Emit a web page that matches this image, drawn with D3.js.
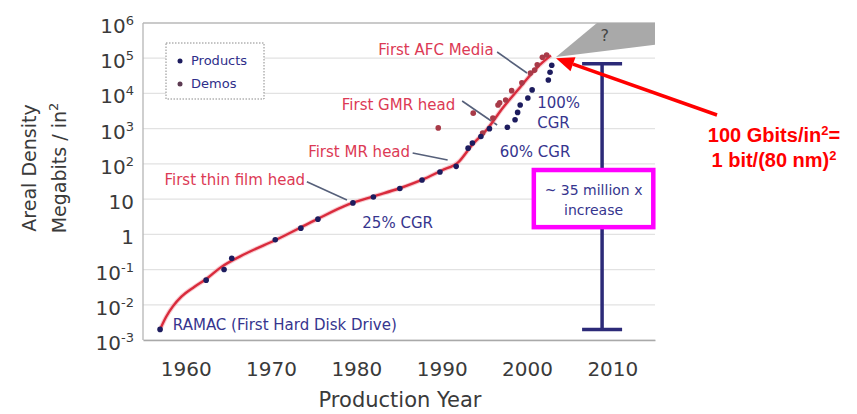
<!DOCTYPE html>
<html>
<head>
<meta charset="utf-8">
<script src="https://cdn.jsdelivr.net/npm/d3@7"></script>
<style>
  body { margin: 0; background: #fff; }
  svg { display: block; }
</style>
</head>
<body>
<svg id="chart" width="857" height="414"></svg>
<script>
// Fitted areal-density trend (production year, Mbit/in^2)
const trendYears  = [1957, 1957.7, 1958.5, 1959.5, 1961, 1962.5, 1964, 1967, 1970.6, 1975, 1979, 1982, 1985, 1988, 1990, 1992, 1993.5, 1995.3, 1997.2, 1999.2, 2001.2, 2002.8];
const trendValues = [0.002, 0.0045, 0.009, 0.017, 0.032, 0.056, 0.11, 0.28, 0.7, 2.4, 7, 12, 20, 38, 65, 115, 330, 950, 4000, 15000, 55000, 120000];

// Shipping products
const productYears  = [1957, 1962.4, 1964.5, 1965.4, 1970.5, 1973.5, 1975.5, 1979.6, 1982, 1985.1, 1987.7, 1989.8, 1991.7, 1993.1, 1993.6, 1994.6, 1995.6, 1997.7, 1998.6, 1998.9, 1999.2, 2000.1, 2000.6, 2002.5, 2002.7, 2002.9];
const productValues = [0.002, 0.05, 0.1, 0.21, 0.7, 1.5, 2.7, 7.8, 11.5, 20, 35, 59, 85, 280, 390, 600, 1000, 1100, 1800, 2900, 4700, 7400, 12600, 24000, 40000, 63000];

// Laboratory demonstrations
const demoYears  = [1989.6, 1993.7, 1994.8, 1996.0, 1996.6, 1996.8, 1997.5, 1998.2, 1999.4, 2000.4, 2000.9, 2001.2, 2001.8, 2002.3];
const demoValues = [1050, 2760, 750, 2000, 4700, 5400, 6500, 12000, 20000, 38000, 46000, 65000, 107000, 123000];

// Axis ticks
const xTickYears = [1960, 1970, 1980, 1990, 2000, 2010];
const yTickValues = [1e-3, 1e-2, 1e-1, 1, 10, 1e2, 1e3, 1e4, 1e5, 1e6];
const yTickBase   = ["10", "10", "10", "1", "10", "10", "10", "10", "10", "10"];
const yTickExp    = ["-3", "-2", "-1", "", "", "2", "3", "4", "5", "6"];

// Range of growth shown by the bar at the right
const rangeYear = 2008.8;
const rangeLow = 0.002;
const rangeHigh = 70000;

const svg = d3.select("#chart");
const W = 857, H = 414;
const plot = { left: 143, right: 655, top: 23, bottom: 340 };

const x = d3.scaleLinear().domain([1955, 2015]).range([plot.left, plot.right]);
const y = d3.scaleLog().domain([1e-3, 1e6]).range([plot.bottom, plot.top]);

const FONT = "'DejaVu Sans', Verdana, sans-serif";
const RED_TXT = "#dc3a55";
const NAVY_TXT = "#36358e";

svg.append("rect").attr("width", W).attr("height", H).attr("fill", "#fff");

// Horizontal gridlines
svg.append("g").selectAll("line").data(yTickValues).join("line")
  .attr("x1", plot.left).attr("x2", plot.right)
  .attr("y1", d => y(d)).attr("y2", d => y(d))
  .attr("stroke", d => d === 1e6 ? "#b9b9b9" : "#e2e2e2")
  .attr("stroke-width", d => d === 1e6 ? 1.5 : 1.2);

// Left frame
svg.append("line")
  .attr("x1", plot.left).attr("x2", plot.left)
  .attr("y1", plot.top).attr("y2", plot.bottom)
  .attr("stroke", "#b5b5b5").attr("stroke-width", 1.3);

// X axis
const xAxis = svg.append("g")
  .attr("transform", `translate(0,${plot.bottom})`)
  .call(d3.axisBottom(x).tickValues(xTickYears).tickFormat(d3.format("d")).tickSize(0).tickPadding(22));
xAxis.select(".domain").attr("stroke", "#a9a9a9").attr("stroke-width", 1.4);
xAxis.selectAll("text").attr("font-family", FONT).attr("font-size", 20).attr("fill", "#3a3a3a");

// Y tick labels with superscript exponents
const yLab = svg.append("g").selectAll("text").data(yTickValues).join("text")
  .attr("x", 134).attr("y", d => y(d) + 10)
  .attr("text-anchor", "end")
  .attr("font-family", FONT).attr("font-size", 20).attr("fill", "#3a3a3a");
yLab.append("tspan").text((d, i) => yTickBase[i]);
yLab.append("tspan")
  .attr("dy", (d, i) => yTickExp[i] ? -8 : 0)
  .attr("font-size", 13)
  .text((d, i) => yTickExp[i]);

// Axis titles
svg.append("text")
  .attr("x", 400).attr("y", 407).attr("text-anchor", "middle")
  .attr("font-family", FONT).attr("font-size", 21).attr("fill", "#3a3a3a")
  .text("Production Year");
const yt = svg.append("g").attr("transform", "translate(0,168) rotate(-90)");
yt.append("text").attr("x", 0).attr("y", 36).attr("text-anchor", "middle")
  .attr("font-family", FONT).attr("font-size", 19).attr("fill", "#3a3a3a")
  .text("Areal Density");
const yt2 = yt.append("text").attr("x", 0).attr("y", 66).attr("text-anchor", "middle")
  .attr("font-family", FONT).attr("font-size", 19).attr("fill", "#3a3a3a");
yt2.append("tspan").text("Megabits / in");
yt2.append("tspan").attr("dy", -8).attr("font-size", 13).text("2");

// Grey "future" wedge with question mark
const wedge = [[2003.4, 1.08e5], [2008.2, 1e6], [2015, 1e6], [2015, 2.4e5]];
svg.append("path")
  .attr("d", d3.line().x(d => x(d[0])).y(d => y(d[1])).curve(d3.curveLinearClosed)(wedge))
  .attr("fill", "#a9a9a9");
svg.append("text")
  .attr("x", x(2009.1)).attr("y", y(4.6e5) + 6).attr("text-anchor", "middle")
  .attr("font-family", FONT).attr("font-size", 16).attr("fill", "#444")
  .text("?");

// Leader lines for annotations
const leaders = [
  [[1996.5, 1.5e5], [2000.0, 3.8e4]],
  [[1992.4, 6100], [1996.5, 1270]],
  [[1986.6, 204], [1990.7, 129]],
  [[1974.2, 31], [1978.9, 9.4]]
];
svg.append("g").selectAll("line").data(leaders).join("line")
  .attr("x1", d => x(d[0][0])).attr("y1", d => y(d[0][1]))
  .attr("x2", d => x(d[1][0])).attr("y2", d => y(d[1][1]))
  .attr("stroke", "#56607a").attr("stroke-width", 1.6);

// Trend curve
const trend = trendYears.map((t, i) => [t, trendValues[i]]);
const trendLine = d3.line().x(d => x(d[0])).y(d => y(d[1])).curve(d3.curveMonotoneX);
svg.append("path").attr("d", trendLine(trend))
  .attr("fill", "none").attr("stroke", "#f3a6b0").attr("stroke-width", 4.5).attr("opacity", 0.6);
svg.append("path").attr("d", trendLine(trend))
  .attr("fill", "none").attr("stroke", "#d92b3c").attr("stroke-width", 2.4);

// Points
svg.append("g").selectAll("circle").data(demoYears.map((t, i) => [t, demoValues[i]])).join("circle")
  .attr("cx", d => x(d[0])).attr("cy", d => y(d[1])).attr("r", 2.8)
  .attr("fill", "#a83a48");
svg.append("g").selectAll("circle").data(productYears.map((t, i) => [t, productValues[i]])).join("circle")
  .attr("cx", d => x(d[0])).attr("cy", d => y(d[1])).attr("r", 2.8)
  .attr("fill", "#1d1c5e");

// Annotation texts
const notes = [
  { t: "First AFC Media", yr: 1996.1, v: 1.2e5, anchor: "end", c: RED_TXT },
  { t: "First GMR head", yr: 1991.6, v: 3400, anchor: "end", c: RED_TXT },
  { t: "First MR head", yr: 1986.3, v: 157, anchor: "end", c: RED_TXT },
  { t: "First thin film head", yr: 1974.0, v: 25, anchor: "end", c: RED_TXT },
  { t: "25% CGR", yr: 1980.7, v: 1.5, anchor: "start", c: NAVY_TXT },
  { t: "60% CGR", yr: 1996.8, v: 157, anchor: "start", c: NAVY_TXT },
  { t: "100%", yr: 2001.2, v: 3860, anchor: "start", c: NAVY_TXT },
  { t: "CGR", yr: 2001.2, v: 1040, anchor: "start", c: NAVY_TXT },
  { t: "RAMAC (First Hard Disk Drive)", yr: 1958.5, v: 1.9e-3, anchor: "start", c: NAVY_TXT }
];
svg.append("g").selectAll("text").data(notes).join("text")
  .attr("x", d => x(d.yr)).attr("y", d => y(d.v))
  .attr("text-anchor", d => d.anchor)
  .attr("font-family", FONT).attr("font-size", 15).attr("fill", d => d.c)
  .text(d => d.t);

// Growth range bar
const rx = x(rangeYear);
const bar = svg.append("g").attr("stroke", "#2c2a78").attr("stroke-width", 3.5);
bar.append("line").attr("x1", rx).attr("x2", rx).attr("y1", y(rangeHigh)).attr("y2", y(rangeLow));
bar.append("line").attr("x1", rx - 20).attr("x2", rx + 20).attr("y1", y(rangeHigh)).attr("y2", y(rangeHigh));
bar.append("line").attr("x1", rx - 20).attr("x2", rx + 20).attr("y1", y(rangeLow)).attr("y2", y(rangeLow));

// Boxed label on the range bar
const bx0 = x(2000.8), bx1 = x(2014.8), by0 = y(67), by1 = y(1.6);
svg.append("rect")
  .attr("x", bx0).attr("y", by0).attr("width", bx1 - bx0).attr("height", by1 - by0)
  .attr("fill", "#fff").attr("stroke", "#ff00ff").attr("stroke-width", 4.5);
svg.append("text")
  .attr("x", (bx0 + bx1) / 2).attr("y", by0 + 25).attr("text-anchor", "middle")
  .attr("font-family", FONT).attr("font-size", 14).attr("fill", NAVY_TXT)
  .text("~ 35 million x");
svg.append("text")
  .attr("x", (bx0 + bx1) / 2).attr("y", by0 + 45).attr("text-anchor", "middle")
  .attr("font-family", FONT).attr("font-size", 14).attr("fill", NAVY_TXT)
  .text("increase");

// Legend
const lg = svg.append("g");
lg.append("rect").attr("x", 166).attr("y", 43).attr("width", 98).attr("height", 56)
  .attr("fill", "#fff").attr("stroke", "#8a8a8a").attr("stroke-width", 1).attr("stroke-dasharray", "1.5,1.5");
const legendItems = [["Products", "#1d1c5e"], ["Demos", "#5c3a52"]];
legendItems.forEach((it, i) => {
  lg.append("circle").attr("cx", 180).attr("cy", 61 + i * 23).attr("r", 2.5).attr("fill", it[1]);
  lg.append("text").attr("x", 191).attr("y", 65 + i * 23)
    .attr("font-family", FONT).attr("font-size", 13).attr("fill", "#2e2e8a")
    .text(it[0]);
});

// Call-out arrow pointing at the latest demo density
const tip = [x(2003.4), y(1.0e5)];
const tail = [717, 115];
const ang = Math.atan2(tip[1] - tail[1], tip[0] - tail[0]);
const headLen = 18, headW = 7.5;
const base = [tip[0] - headLen * Math.cos(ang), tip[1] - headLen * Math.sin(ang)];
svg.append("line")
  .attr("x1", tail[0]).attr("y1", tail[1]).attr("x2", base[0]).attr("y2", base[1])
  .attr("stroke", "#ff0000").attr("stroke-width", 3.5);
svg.append("path")
  .attr("d", `M${tip[0]},${tip[1]} L${base[0] - headW * Math.sin(ang)},${base[1] + headW * Math.cos(ang)} L${base[0] + headW * Math.sin(ang)},${base[1] - headW * Math.cos(ang)} Z`)
  .attr("fill", "#ff0000");

const c1 = svg.append("text").attr("x", 774).attr("y", 142).attr("text-anchor", "middle")
  .attr("font-family", "'Liberation Sans', Arial, sans-serif").attr("font-weight", "bold")
  .attr("font-size", 20).attr("fill", "#ff0000");
c1.append("tspan").text("100 Gbits/in");
c1.append("tspan").attr("dy", -7).attr("font-size", 13).text("2");
c1.append("tspan").attr("dy", 7).text("=");
const c2 = svg.append("text").attr("x", 774).attr("y", 167).attr("text-anchor", "middle")
  .attr("font-family", "'Liberation Sans', Arial, sans-serif").attr("font-weight", "bold")
  .attr("font-size", 20).attr("fill", "#ff0000");
c2.append("tspan").text("1 bit/(80 nm)");
c2.append("tspan").attr("dy", -7).attr("font-size", 13).text("2");
</script>
</body>
</html>
